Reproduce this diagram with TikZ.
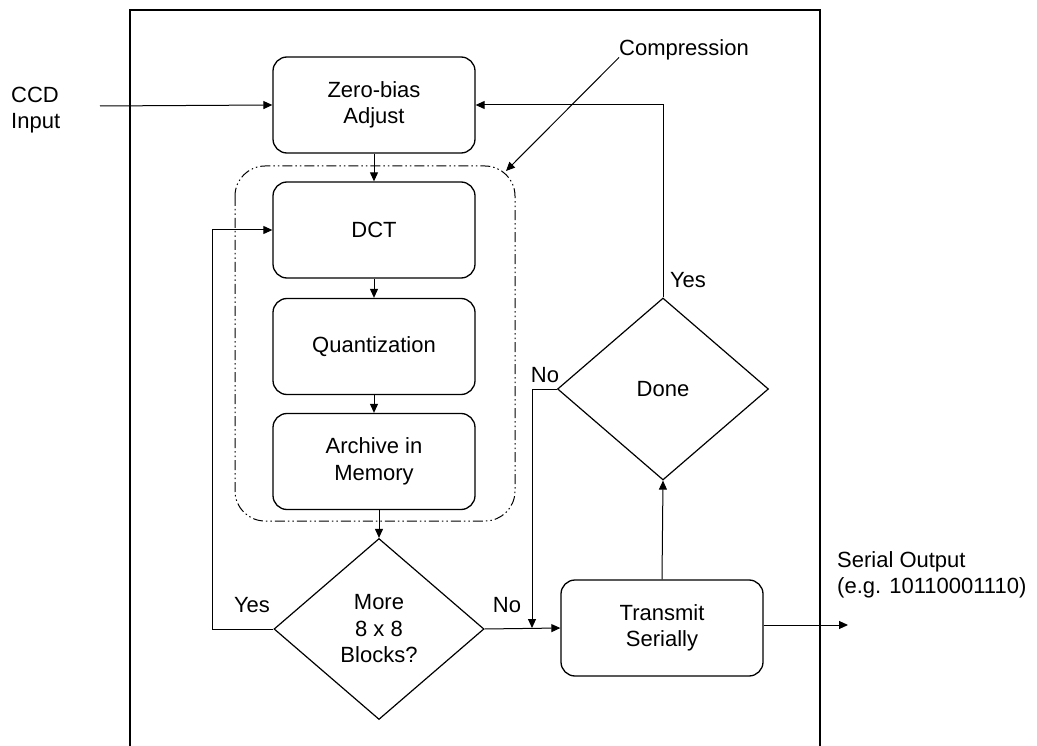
\documentclass[tikz,border=0pt]{standalone}
\usepackage{fontspec}
\setmainfont{Liberation Sans}
\usetikzlibrary{arrows.meta,shapes.geometric}

\tikzset{
  every node/.style={font=\fontsize{22}{26.5}\selectfont},
  procbox/.style={draw, line width=1.3pt, rounded corners=14pt,
    minimum width=202pt, minimum height=96pt, align=center, inner sep=0pt},
  decision/.style={draw, line width=1.2pt, diamond, inner sep=0pt, align=center},
  flow/.style={line width=1pt, -{Triangle[length=9pt,width=8pt]}},
  groupline/.style={line width=1pt, rounded corners=30pt,
    dash pattern=on 10pt off 3pt on 1.5pt off 3pt on 1.5pt off 3pt},
  tag/.style={inner sep=0pt}
}

\begin{document}
\begin{tikzpicture}[x=1pt,y=-1pt]
  \useasboundingbox (0,0) rectangle (1037,746);

  % outer enclosure (open at the bottom)
  \draw[line width=1.2pt] (130,746) -- (130,10) -- (820,10) -- (820,746);

  % processing blocks
  \node[procbox] (zb)    at (374,105)   {Zero-bias\\Adjust};
  \node[procbox] (dct)   at (374,230)   {DCT};
  \node[procbox] (quant) at (374,346.5) {Quantization};
  \node[procbox] (arch)  at (374,461.5) {Archive in\\Memory};
  \node[procbox] (tx)    at (662,628)   {Transmit\\Serially};

  % decisions
  \node[decision, minimum width=210pt, minimum height=181pt] (more) at (379,629) {More\\8 x 8\\Blocks?};
  \node[decision, minimum width=211pt, minimum height=182pt] (done) at (663,389) {Done};

  % compression group outline
  \draw[groupline] (235,166) rectangle (515,521);

  % free text
  \node[tag, align=left, anchor=west] (ccd) at (11,110) {CCD\\Input};
  \node[tag, anchor=west] (comp) at (619,50) {Compression};
  \node[tag, align=left, anchor=west] (serial) at (837,575) {Serial Output\\(e.g. 10110001110)};

  % connector ends
  \coordinate (ccdin)   at (100,106);
  \coordinate (comptip) at (506,171);
  \coordinate (nojoin)  at (532,628);
  \coordinate (serout)  at (848,625);

  % flow
  \draw[flow] (ccdin) -- (zb.west);
  \draw[flow] (zb.south) -- (dct.north);
  \draw[flow] (dct.south) -- (quant.north);
  \draw[flow] (quant.south) -- (arch.north);
  \draw[flow] (more.north |- arch.south) -- (more.north);
  \draw[flow] (more.west) -- ++(-61,0) |- (dct.west);
  \draw[flow] (more.east) -- (tx.west);
  \draw[flow] (done.west) -| (nojoin);
  \draw[flow] (tx.north) -- (done.south);
  \draw[flow] (done.north) |- (zb.east);
  \draw[flow] (tx.east |- serout) -- (serout);
  \draw[flow] (comp.south west) ++(0,-3) -- (comptip);

  % branch labels
  \node[tag] (yes1) at (252,605) {Yes};
  \node[tag] (no1)  at (507,605) {No};
  \node[tag] (yes2) at (688,280) {Yes};
  \node[tag] (no2)  at (545,375) {No};
\end{tikzpicture}
\end{document}
